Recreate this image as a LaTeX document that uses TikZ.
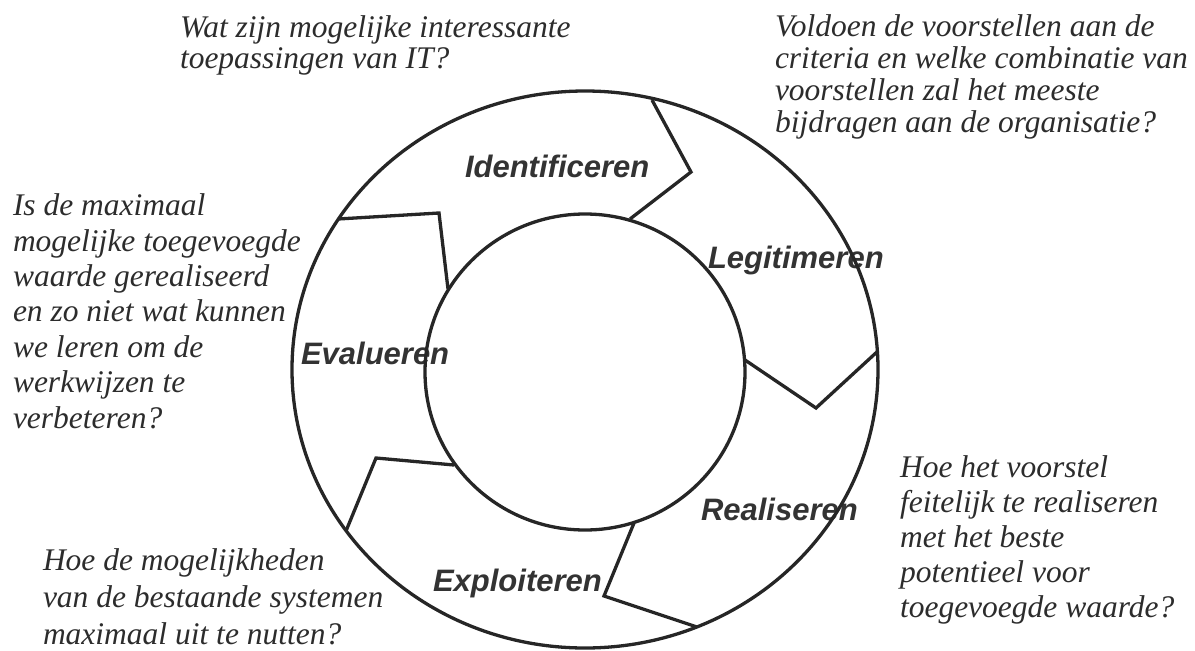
\documentclass[tikz,border=0pt]{standalone}
\usepackage{fontspec}
\setmainfont{Liberation Serif}
\newfontfamily\lblfont{Liberation Sans}
\definecolor{ink}{HTML}{262626}
\definecolor{txt}{HTML}{2C2C2C}
\definecolor{lbltxt}{HTML}{333333}
\begin{document}
\begin{tikzpicture}[x=1pt,y=-1pt,
  q/.style={anchor=base west, inner sep=0pt, outer sep=0pt, align=left, text=txt,
            font=\fontsize{31.5}{#1}\selectfont\itshape},
  lbl/.style={anchor=base west, inner sep=0pt, outer sep=0pt, text=lbltxt,
            font=\lblfont\fontsize{31}{31}\selectfont\bfseries\itshape},
  ring/.style={draw=ink, line width=3.3pt},
  bnd/.style={draw=ink, line width=3.3pt, line join=miter, line cap=butt}]
\useasboundingbox (0,0) rectangle (1195,651);

% questions (anchor = baseline of the last line)
\node[q=31.5] (qtl) at (180,68.5) {Wat zijn mogelijke interessante\\toepassingen van IT?};
\node[q=32] (qtr) at (775,132) {Voldoen de voorstellen aan de\\criteria en welke combinatie van\\voorstellen zal het meeste\\bijdragen aan de organisatie?};
\node[q=35.4] (ql) at (13,428) {Is de maximaal\\mogelijke toegevoegde\\waarde gerealiseerd\\en zo niet wat kunnen\\we leren om de\\werkwijzen te\\verbeteren?};
\node[q=37] (qbl) at (43,644) {Hoe de mogelijkheden\\van de bestaande systemen\\maximaal uit te nutten?};
\node[q=35] (qr) at (900,617) {Hoe het voorstel\\feitelijk te realiseren\\met het beste\\potentieel voor\\toegevoegde waarde?};

% phase labels
\node[lbl] (lid) at (465,177) {Identificeren};
\node[lbl] (lleg) at (708,268) {Legitimeren};
\node[lbl] (lev) at (301,364) {Evalueren};
\node[lbl] (lre) at (701,520) {Realiseren};
\node[lbl] (lex) at (433,591) {Exploiteren};

% rings
\draw[ring] (585,369.5) ellipse [x radius=293, y radius=278.5];
\draw[ring] (585,372) ellipse [x radius=160, y radius=158];

% boundaries between phases
\coordinate (b1o) at (338,219); \coordinate (b1c) at (439,213); \coordinate (b1i) at (448,289);
\coordinate (b2o) at (652,100); \coordinate (b2c) at (691,172); \coordinate (b2i) at (630,219);
\coordinate (b3o) at (878,351); \coordinate (b3c) at (816,408); \coordinate (b3i) at (745,360);
\coordinate (b4i) at (634,523); \coordinate (b4c) at (604,596); \coordinate (b4o) at (697,627);
\coordinate (b5i) at (454,465); \coordinate (b5c) at (376,458); \coordinate (b5o) at (346,531);
\draw[bnd] (b1o) -- (b1c) -- (b1i);
\draw[bnd] (b2o) -- (b2c) -- (b2i);
\draw[bnd] (b3o) -- (b3c) -- (b3i);
\draw[bnd] (b4i) -- (b4c) -- (b4o);
\draw[bnd] (b5i) -- (b5c) -- (b5o);
\end{tikzpicture}
\end{document}
